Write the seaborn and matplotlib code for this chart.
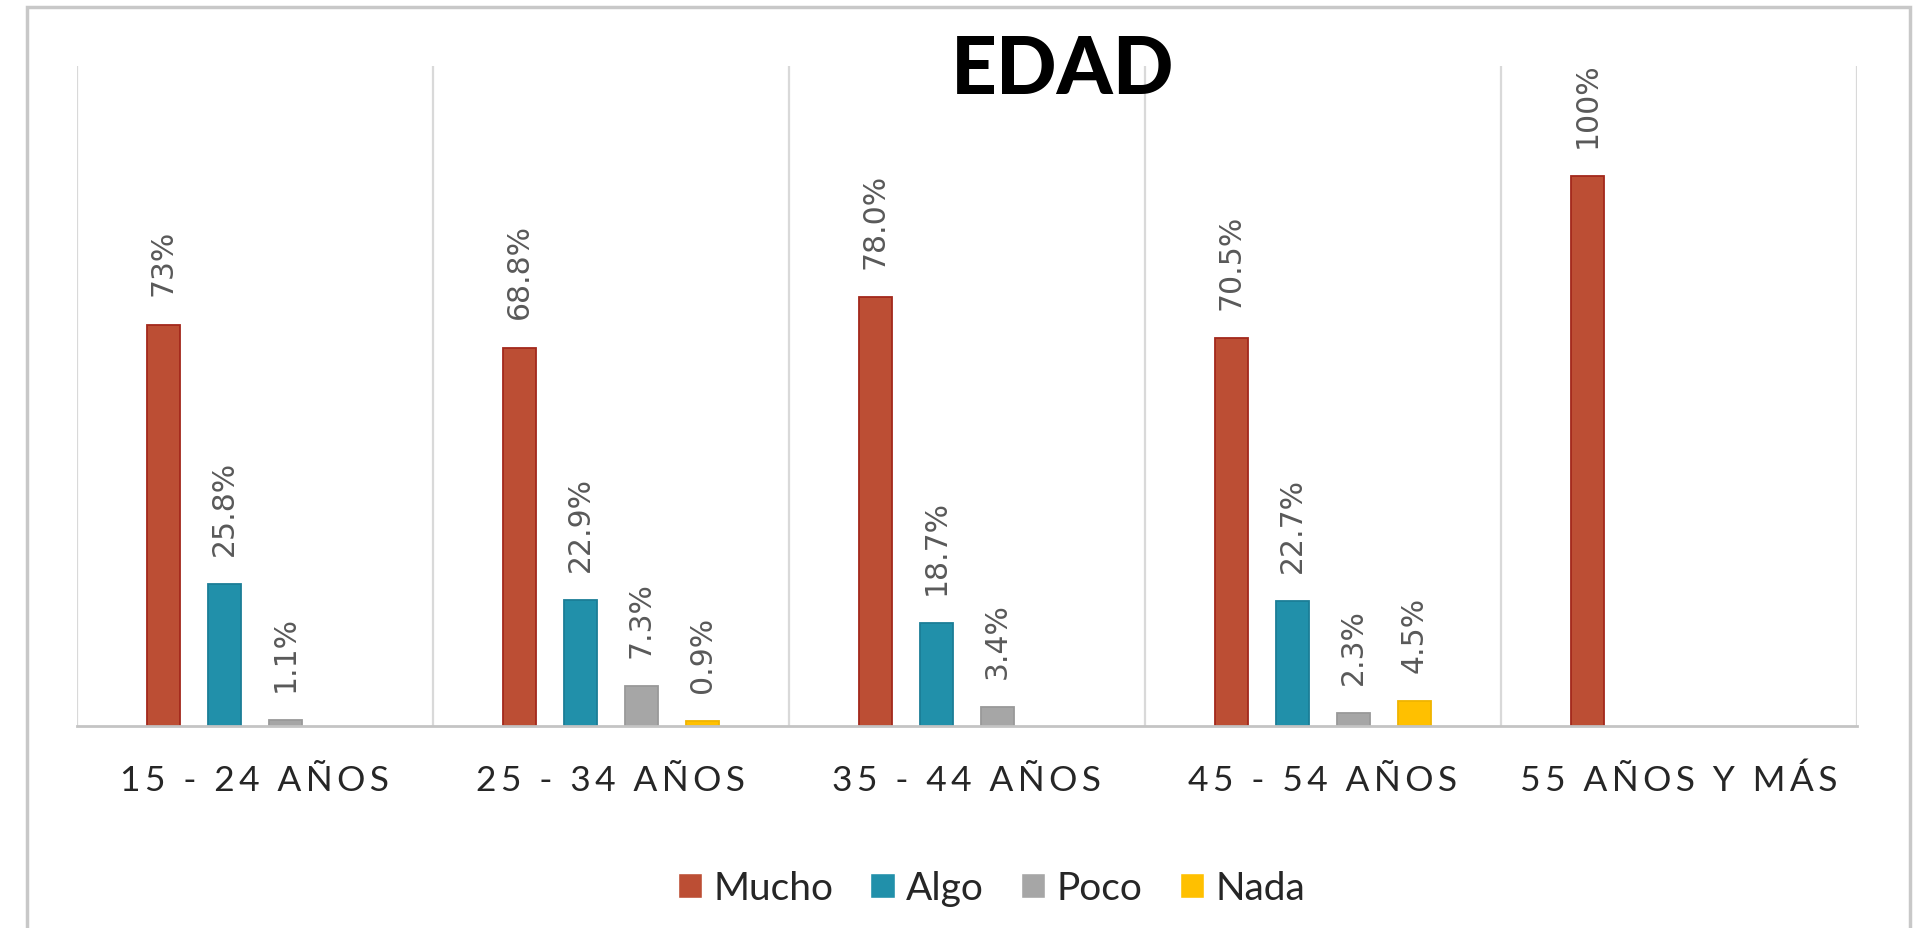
import numpy as np
import pandas as pd
import matplotlib.pyplot as plt
import seaborn as sns
from matplotlib.patches import Rectangle

# Data
categories = ["15 - 24 AÑOS", "25 - 34 AÑOS", "35 - 44 AÑOS", "45 - 54 AÑOS", "55 AÑOS Y MÁS"]
series = ["Mucho", "Algo", "Poco", "Nada"]
mucho = [73.0, 68.8, 78.0, 70.5, 100.0]
algo = [25.8, 22.9, 18.7, 22.7, 0.0]
poco = [1.1, 7.3, 3.4, 2.3, 0.0]
nada = [0.0, 0.9, 0.0, 4.5, 0.0]
mucho_labels = ["73%", "68.8%", "78.0%", "70.5%", "100%"]

colors = ["#BC4E34", "#2190AA", "#A6A6A6", "#FFC000"]
edge_colors = ["#A3281B", "#1B7E97", "#999999", "#F0B400"]

df = pd.DataFrame({
    "Edad": categories * 4,
    "Respuesta": np.repeat(series, len(categories)),
    "Valor": mucho + algo + poco + nada,
})

sns.set_theme(style="white")
plt.rcParams['font.family'] = ['Lato', 'DejaVu Sans']

fig = plt.figure(figsize=(19.14, 9.29), dpi=100)
ax = fig.add_axes([0.0402, 0.2174, 0.930, 0.7104])

sns.barplot(data=df, x="Edad", y="Valor", hue="Respuesta", hue_order=series,
            order=categories, palette=colors, width=0.686, gap=0.46,
            saturation=1, errorbar=None, ax=ax)

# darker outlines like the original, none on empty bars
for container, ec in zip(ax.containers, edge_colors):
    for bar in container:
        if bar.get_height() > 0:
            bar.set_edgecolor(ec)
            bar.set_linewidth(1.3)
        else:
            bar.set_linewidth(0)

# value labels, rotated
all_vals = [mucho, algo, poco, nada]
for i, container in enumerate(ax.containers):
    if i == 0:
        labels = mucho_labels
    else:
        labels = [f"{v:.1f}%" if v > 0 else "" for v in all_vals[i]]
    ax.bar_label(container, labels=labels, rotation=90, padding=21,
                 fontsize=21.5, color="#595959", family="DejaVu Sans")

ax.set_xlim(-0.5, len(categories) - 0.5)
ax.set_ylim(0, 120)
ax.set_xlabel("")
ax.set_ylabel("")
ax.set_yticks([])

# spaced-out category labels (thin spaces between letters)
spaced = ["\u2009".join(c) for c in categories]
ax.set_xticks(range(len(categories)))
ax.set_xticklabels(spaced, fontsize=25.5, color="#262626")
ax.tick_params(axis="x", length=0, pad=27)

# vertical separators between groups
ax.set_xticks(np.arange(-0.5, len(categories)), minor=True)
ax.tick_params(axis="x", which="minor", length=0)
ax.grid(which="minor", axis="x", color="#D9D9D9", linewidth=1.6)
ax.grid(which="major", visible=False)

for side in ["left", "top", "right"]:
    ax.spines[side].set_visible(False)
ax.spines["bottom"].set_color("#C4C4C4")
ax.spines["bottom"].set_linewidth(2)

# legend below the chart
handles, labels = ax.get_legend_handles_labels()
ax.get_legend().remove()
fig.legend(handles, labels, loc="center", bbox_to_anchor=(0.518, 0.043), ncol=4,
           frameon=False, fontsize=28, handlelength=0.62, handleheight=0.62,
           handletextpad=0.3, columnspacing=0.95)

fig.text(0.555, 0.8988, "EDAD", ha="center", va="baseline", fontsize=57.5,
         fontweight="black", color="black")

# outer frame of the chart area
fig.add_artist(Rectangle((27 / 1914, -0.05), (1910 - 27) / 1914, 1.05 - 8 / 929,
                         transform=fig.transFigure, fill=False,
                         edgecolor="#C8C8C8", linewidth=2.5))

fig.savefig("out.png", dpi=100)
